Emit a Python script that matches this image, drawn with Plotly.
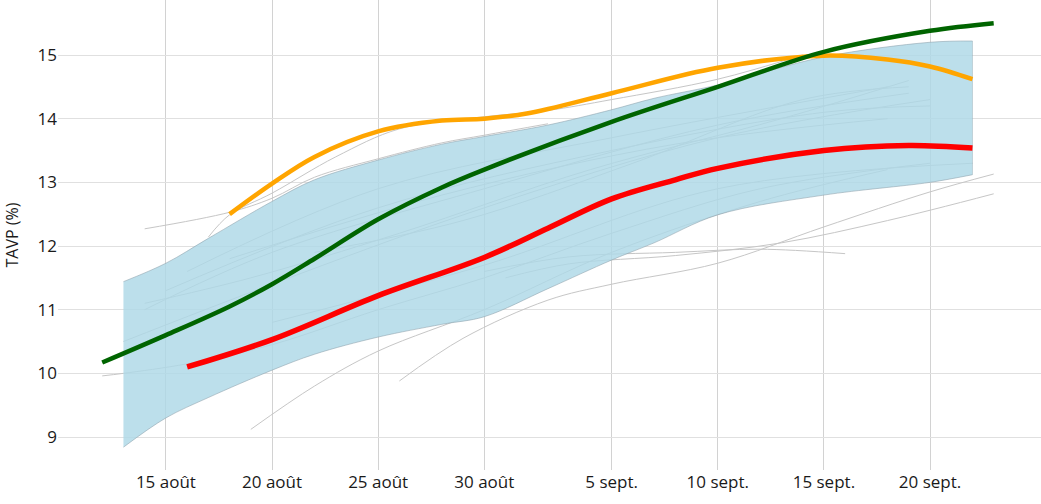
import plotly.graph_objects as go

YEAR = "2023"

def d(s):
    m, day = s.split("-")
    return f"{YEAR}-{m}-{day}"

# Highlighted series
green_dates = ["08-12", "08-15", "08-18", "08-20", "08-22", "08-25", "08-28", "08-30", "09-05", "09-10", "09-15", "09-20", "09-23"]
green_vals = [10.17, 10.6, 11.05, 11.4, 11.8, 12.42, 12.92, 13.2, 13.95, 14.5, 15.05, 15.38, 15.5]

orange_dates = ["08-18", "08-20", "08-22", "08-25", "08-28", "08-30", "09-01", "09-05", "09-10", "09-15", "09-18", "09-20", "09-22"]
orange_vals = [12.5, 12.98, 13.4, 13.8, 13.97, 14.0, 14.08, 14.4, 14.8, 14.99, 14.93, 14.82, 14.62]

red_dates = ["08-16", "08-20", "08-25", "08-30", "09-02", "09-05", "09-08", "09-10", "09-15", "09-19", "09-22"]
red_vals = [10.1, 10.53, 11.22, 11.82, 12.28, 12.74, 13.04, 13.22, 13.5, 13.58, 13.54]

# Band (envelope)
band_dates = ["08-13", "08-15", "08-17", "08-20", "08-22", "08-25", "08-28", "08-30", "09-02", "09-05", "09-07", "09-10", "09-15", "09-20", "09-22"]
band_upper = [11.44, 11.73, 12.12, 12.7, 13.04, 13.35, 13.6, 13.72, 13.9, 14.14, 14.32, 14.53, 14.97, 15.2, 15.22]
band_lower = [8.84, 9.3, 9.62, 10.05, 10.3, 10.57, 10.77, 10.89, 11.33, 11.78, 12.05, 12.49, 12.8, 13.0, 13.12]

# Other years (thin gray lines)
other_lines = [
    (["08-14", "08-18", "08-20", "08-22", "08-25", "08-28", "08-30", "09-02"], [12.27, 12.53, 12.75, 13.08, 13.37, 13.62, 13.74, 13.92]),
    (["08-17", "08-18", "08-20", "08-23", "08-26", "08-30", "09-02", "09-05", "09-10", "09-14"], [12.14, 12.49, 12.83, 13.4, 13.84, 14.03, 14.13, 14.3, 14.62, 15.0]),
    (["08-12", "08-13", "08-16", "08-20", "08-25", "08-30", "09-05", "09-12", "09-20"], [9.96, 10.0, 10.15, 10.45, 11.0, 11.5, 12.2, 12.9, 13.3]),
    (["08-19", "08-22", "08-25", "08-30", "09-05", "09-12", "09-18"], [9.12, 9.8, 10.35, 11.0, 11.9, 12.7, 13.2]),
    (["08-26", "08-29", "09-02", "09-05", "09-10", "09-15", "09-20", "09-23"], [9.88, 10.55, 11.15, 11.4, 11.73, 12.3, 12.85, 13.13]),
    (["08-30", "09-03", "09-08", "09-12", "09-16"], [11.6, 11.83, 11.9, 11.95, 11.88]),
    (["08-31", "09-03", "09-08", "09-13", "09-18", "09-23"], [11.5, 11.72, 11.85, 12.05, 12.4, 12.82]),
    (["08-13", "08-20", "08-30", "09-10", "09-20"], [10.5, 11.4, 12.6, 13.7, 14.3]),
    (["08-14", "08-20", "08-30", "09-10", "09-19"], [11.0, 11.9, 12.9, 13.9, 14.4]),
    (["08-15", "08-25", "09-05", "09-15", "09-20"], [11.3, 12.6, 13.5, 14.1, 14.2]),
    (["08-16", "08-25", "09-05", "09-18"], [11.6, 12.9, 13.7, 14.5]),
    (["08-20", "08-30", "09-10", "09-22"], [10.8, 11.7, 12.9, 13.3]),
    (["08-18", "08-28", "09-08", "09-18"], [11.8, 12.8, 13.6, 14.0]),
    (["08-14", "08-19", "08-26", "09-04", "09-13", "09-19"], [11.1, 11.5, 12.2, 13.2, 14.0, 14.6]),
    (["08-22", "08-29", "09-06", "09-14", "09-19"], [11.9, 12.4, 13.3, 14.3, 14.5]),
]

x_tickvals = ["08-15", "08-20", "08-25", "08-30", "09-05", "09-10", "09-15", "09-20"]
x_ticktext = ["15 août", "20 août", "25 août", "30 août", "5 sept.", "10 sept.", "15 sept.", "20 sept."]
y_tickvals = [9, 10, 11, 12, 13, 14, 15]

fig = go.Figure()

for dates, vals in other_lines:
    fig.add_trace(go.Scatter(
        x=[d(s) for s in dates], y=vals, mode="lines",
        line=dict(color="#c6c6c6", width=1, shape="spline"),
        hoverinfo="skip", showlegend=False))

edge = dict(color="rgba(140,160,170,0.7)", width=0.8, shape="spline")
fig.add_trace(go.Scatter(x=[d(s) for s in band_dates], y=band_lower, mode="lines",
                         line=edge, showlegend=False, hoverinfo="skip"))
fig.add_trace(go.Scatter(x=[d(s) for s in band_dates], y=band_upper, mode="lines",
                         line=edge, fill="tonexty", fillcolor="rgba(173,216,230,0.82)",
                         showlegend=False, hoverinfo="skip"))
fig.add_trace(go.Scatter(x=[d(band_dates[-1])] * 2, y=[band_lower[-1], band_upper[-1]], mode="lines",
                         line=dict(color="rgba(140,160,170,0.5)", width=0.8), showlegend=False, hoverinfo="skip"))

fig.add_trace(go.Scatter(x=[d(s) for s in orange_dates], y=orange_vals, mode="lines",
                         line=dict(color="#FFA500", width=4.5, shape="spline"), showlegend=False))
fig.add_trace(go.Scatter(x=[d(s) for s in red_dates], y=red_vals, mode="lines",
                         line=dict(color="#FF0000", width=5.5, shape="spline"), showlegend=False))
fig.add_trace(go.Scatter(x=[d(s) for s in green_dates], y=green_vals, mode="lines",
                         line=dict(color="#006400", width=4.5, shape="spline"), showlegend=False))

fig.update_layout(
    width=1041, height=504,
    margin=dict(l=58, r=0, t=0, b=34),
    paper_bgcolor="white", plot_bgcolor="white",
    font=dict(family="Open Sans", size=17, color="#1a1a1a"),
    xaxis=dict(
        range=[f"{YEAR}-08-09 22:00", f"{YEAR}-09-25 05:30"],
        tickvals=[d(s) for s in x_tickvals], ticktext=x_ticktext,
        showgrid=True, gridcolor="#d2d2d2", gridwidth=1,
        zeroline=False, showline=False, ticks="", tickfont=dict(size=17),
    ),
    yaxis=dict(
        range=[8.482, 15.864],
        tickvals=y_tickvals,
        showgrid=True, gridcolor="#e0e0e0", gridwidth=1,
        zeroline=False, showline=False, ticks="",
        title=dict(text="TAVP (%)", font=dict(size=16), standoff=14),
        tickfont=dict(size=17), automargin=False,
    ),
)

fig.write_html("out.html", config={"displayModeBar": False},
               post_script="document.body.style.margin='0';")
